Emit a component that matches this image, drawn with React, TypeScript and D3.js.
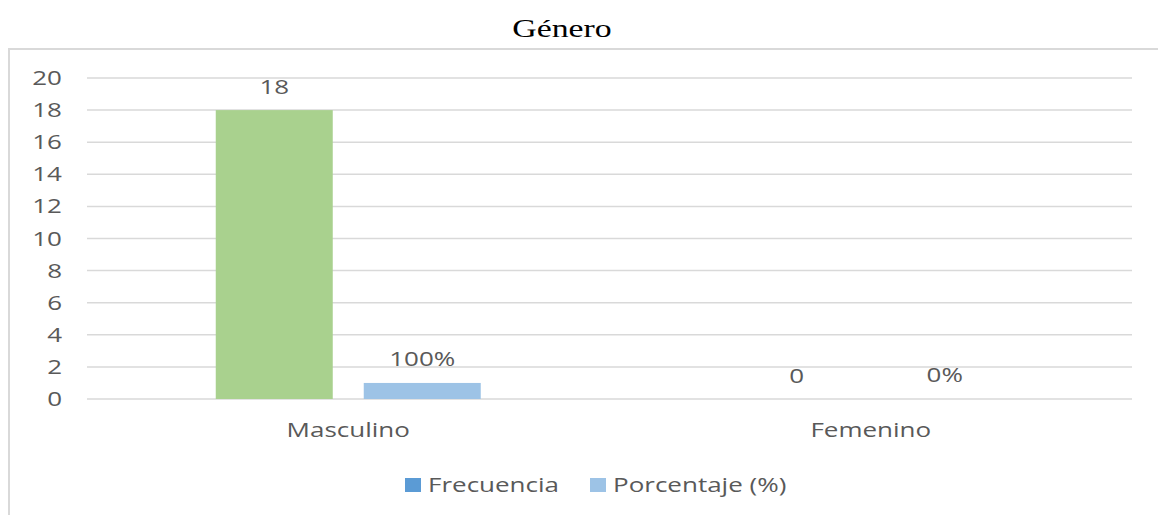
import React from "react";
import * as d3 from "d3";

const categories = ["Masculino", "Femenino"];
const frecuencia = [18, 0];
const porcentaje = [1, 0];
const porcentajeLabels = ["100%", "0%"];
const yTicks = [0, 2, 4, 6, 8, 10, 12, 14, 16, 18, 20];
const seriesNames = ["Frecuencia", "Porcentaje (%)"];

const W = 1158;
const H = 515;
const FONT = "'Open Sans', 'Noto Sans', sans-serif";
const SX = 1.3;

function T(props: {
  x: number;
  y: number;
  anchor?: "start" | "middle" | "end";
  size?: number;
  family?: string;
  fill?: string;
  dy?: string;
  children: React.ReactNode;
}) {
  const { x, y, anchor = "middle", size = 20, family = FONT, fill = "#595959", dy, children } = props;
  return (
    <g transform={`translate(${x},${y}) scale(${SX},1)`}>
      <text x={0} y={0} dy={dy} textAnchor={anchor} fontFamily={family} fontSize={size} fill={fill}>
        {children}
      </text>
    </g>
  );
}

export default function App() {
  const left = 87;
  const right = 1132;
  const top = 78;
  const bottom = 399;
  const x = d3.scaleBand<string>().domain(categories).range([left, right]);
  const y = d3.scaleLinear().domain([0, 20]).range([bottom, top]);
  const barW = 117;
  const gap = 31;
  const freqColor = "#A9D18E";
  const pctColor = "#9DC3E6";
  const legendColors = ["#5B9BD5", "#9DC3E6"];

  return (
    <svg width={W} height={H} style={{ position: "absolute", left: 0, top: 0 }}>
      <rect x={0} y={0} width={W} height={H} fill="#fff" />
      <T x={562} y={37} size={26} family="'Liberation Serif', 'Times New Roman', serif" fill="#000">
        Género
      </T>
      <rect x={9} y={49} width={1170} height={500} fill="none" stroke="#d9d9d9" strokeWidth={2} />
      {yTicks.map((t) => (
        <g key={t}>
          <line x1={left} x2={right} y1={y(t)} y2={y(t)} stroke="#d9d9d9" strokeWidth={1.5} />
          <T x={62} y={y(t)} dy="0.35em" anchor="end">
            {t}
          </T>
        </g>
      ))}
      {categories.map((c, i) => {
        const cx = x(c)! + x.bandwidth() / 2;
        const fx = cx - gap / 2 - barW;
        const px = cx + gap / 2;
        return (
          <g key={c}>
            {frecuencia[i] > 0 && (
              <rect x={fx} y={y(frecuencia[i])} width={barW} height={bottom - y(frecuencia[i])} fill={freqColor} />
            )}
            {porcentaje[i] > 0 && (
              <rect x={px} y={y(porcentaje[i])} width={barW} height={bottom - y(porcentaje[i])} fill={pctColor} />
            )}
            <T x={fx + barW / 2} y={y(frecuencia[i]) - 16}>
              {frecuencia[i]}
            </T>
            <T x={px + barW / 2} y={y(porcentaje[i]) - 17}>
              {porcentajeLabels[i]}
            </T>
            <T x={cx} y={437}>
              {c}
            </T>
          </g>
        );
      })}
      {seriesNames.map((s, i) => {
        const lx = i === 0 ? 405 : 590;
        return (
          <g key={s}>
            <rect x={lx} y={478} width={16} height={14} fill={legendColors[i]} />
            <T x={lx + 23} y={492} anchor="start">
              {s}
            </T>
          </g>
        );
      })}
    </svg>
  );
}
